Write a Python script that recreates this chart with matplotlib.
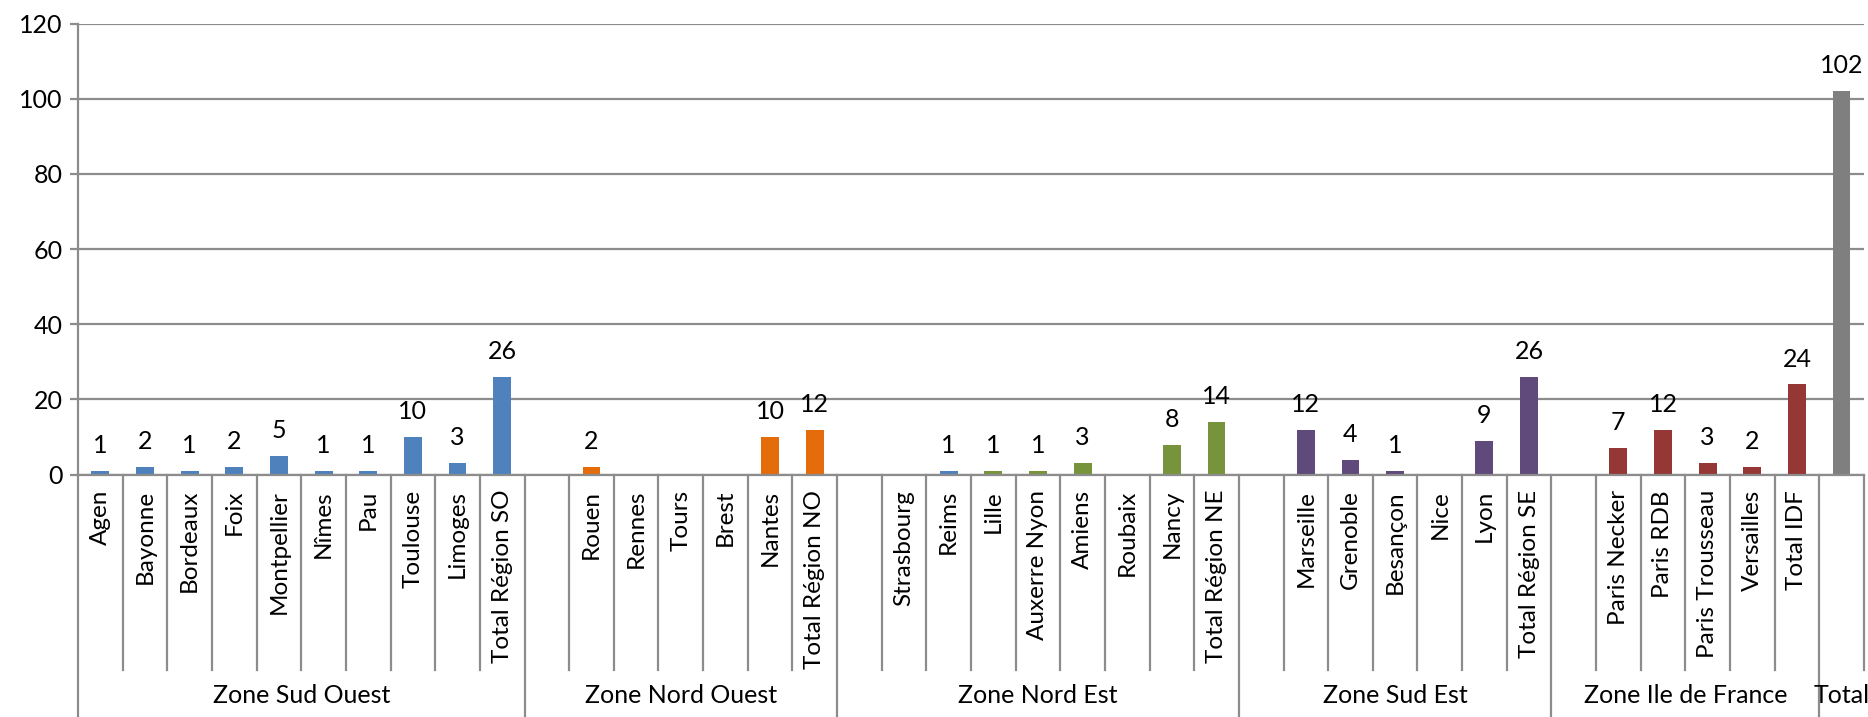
"""
Bar chart by centre, grouped by zone, with an Excel-like two level category axis.
"""

import matplotlib
matplotlib.use("Agg")
import matplotlib.pyplot as plt

plt.rcParams["font.family"] = ["Lato", "DejaVu Sans"]

# Zones (second level of the category axis)
zones = ["Zone Sud Ouest", "Zone Nord Ouest", "Zone Nord Est",
         "Zone Sud Est", "Zone Ile de France", "Total"]

# Categories per zone (first level); "" is an empty slot
cats_so = ["Agen", "Bayonne", "Bordeaux", "Foix", "Montpellier", "Nîmes",
           "Pau", "Toulouse", "Limoges", "Total Région SO"]
cats_no = ["", "Rouen", "Rennes", "Tours", "Brest", "Nantes", "Total Région NO"]
cats_ne = ["", "Strasbourg", "Reims", "Lille", "Auxerre Nyon", "Amiens",
           "Roubaix", "Nancy", "Total Région NE"]
cats_se = ["", "Marseille", "Grenoble", "Besançon", "Nice", "Lyon",
           "Total Région SE"]
cats_idf = ["", "Paris Necker", "Paris RDB", "Paris Trousseau", "Versailles",
            "Total IDF"]
cats_tot = [""]

# Values (None = no bar)
vals_so = [1, 2, 1, 2, 5, 1, 1, 10, 3, 26]
vals_no = [None, 2, None, None, None, 10, 12]
vals_ne = [None, None, 1, 1, 1, 3, None, 8, 14]
vals_se = [None, 12, 4, 1, None, 9, 26]
vals_idf = [None, 7, 12, 3, 2, 24]
vals_tot = [102]

zone_colors = ["#4F81BD", "#E46C0A", "#77933C", "#604A7B", "#953735", "#7F7F7F"]
# one bar in Nord Est keeps the blue colour in the source chart
override_colors = {"Reims": "#4F81BD"}

all_cats = [cats_so, cats_no, cats_ne, cats_se, cats_idf, cats_tot]
all_vals = [vals_so, vals_no, vals_ne, vals_se, vals_idf, vals_tot]

grid_col = "#8C8C8C"
lw = 1.6
fs = 18

fig = plt.figure(figsize=(18.68, 7.17), dpi=100)
ax = fig.add_axes([0.0418, 0.338, 0.956, 0.629])

labels, values, colors, zone_spans = [], [], [], []
pos = 0
for zone, cats, vals, col in zip(zones, all_cats, all_vals, zone_colors):
    zone_spans.append((pos, pos + len(cats)))
    for c, v in zip(cats, vals):
        labels.append(c)
        values.append(v)
        colors.append(override_colors.get(c, col))
    pos += len(cats)

n = len(labels)
xs = list(range(n))

for x, v, c in zip(xs, values, colors):
    if v is None:
        continue
    ax.bar(x, v, width=0.4, color=c, zorder=3)
    ax.annotate(str(v), (x, v), xytext=(0, 10), textcoords="offset points",
                ha="center", va="bottom", fontsize=fs, color="black")

ax.set_xlim(-0.5, n - 0.5)
ax.set_ylim(0, 120)
ax.set_yticks(range(0, 121, 20))
ax.yaxis.grid(True, color=grid_col, lw=lw, zorder=0)
ax.set_axisbelow(True)

for side in ["top", "right", "bottom"]:
    ax.spines[side].set_visible(False)
ax.spines["left"].set_color(grid_col)
ax.spines["left"].set_linewidth(lw)
ax.axhline(0, color=grid_col, lw=lw, zorder=4, clip_on=False)

ax.tick_params(axis="y", length=6, width=lw, color=grid_col, labelsize=fs,
               pad=5)
ax.set_xticks(xs)
ax.set_xticklabels(labels, rotation=90, fontsize=17.5)
ax.tick_params(axis="x", length=0, pad=11)

# category separators below the axis
trans = ax.get_xaxis_transform()
short_y = -0.433
long_y = -0.54
zone_edges = set()
for s, e in zone_spans:
    zone_edges.add(s)
    zone_edges.add(e)
for b in range(n + 1):
    y_end = long_y if b in zone_edges and b < n else short_y
    ax.plot([b - 0.5, b - 0.5], [0, y_end], color=grid_col, lw=lw,
            transform=trans, clip_on=False)

for zone, (s, e) in zip(zones, zone_spans):
    ax.text((s + e - 1) / 2, -0.49, zone, transform=trans, ha="center",
            va="center", fontsize=fs)

fig.savefig("out.png", dpi=100, facecolor="white")
